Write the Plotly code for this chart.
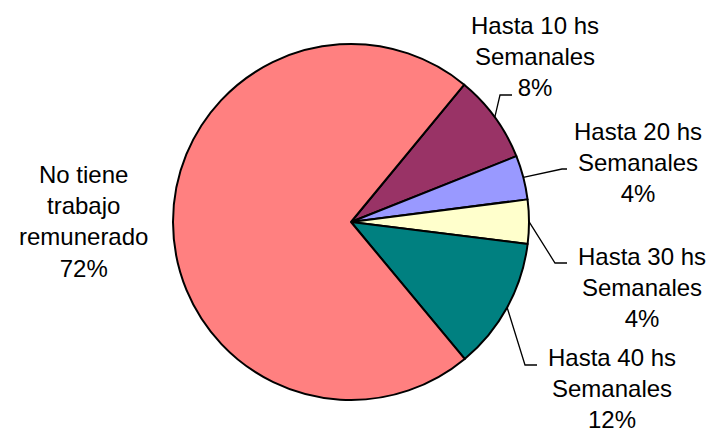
import math
import plotly.graph_objects as go

categories = ["Hasta 10 hs Semanales", "Hasta 20 hs Semanales", "Hasta 30 hs Semanales",
              "Hasta 40 hs Semanales", "No tiene trabajo remunerado"]
label_text = ["Hasta 10 hs<br>Semanales<br>8%", "Hasta 20 hs<br>Semanales<br>4%",
              "Hasta 30 hs<br>Semanales<br>4%", "Hasta 40 hs<br>Semanales<br>12%",
              "No tiene<br>trabajo<br>remunerado<br>72%"]
values = [8, 4, 4, 12, 72]
colors = ["#993366", "#9999FF", "#FFFFCC", "#008080", "#FF8080"]

W, H = 715, 432
cx, cy, R = 351, 222, 178
start_angle = 39.5  # degrees clockwise from 12 o'clock

fig = go.Figure(go.Pie(
    labels=categories, values=values, sort=False, direction="clockwise",
    rotation=start_angle, textinfo="none", hoverinfo="skip",
    marker=dict(colors=colors, line=dict(color="black", width=2)),
    domain=dict(x=[(cx - R) / W, (cx + R) / W], y=[(H - cy - R) / H, (H - cy + R) / H]),
    showlegend=False,
))

# label layout (pixel centers) and leader elbows
label_pos = [(535, 56), (638, 162), (642, 287), (612, 388), (83, 221)]
elbows = [[(500, 95), (512, 95)], [(562, 169), (567, 169)], [(555, 263), (567, 263)],
          [(525, 365), (537, 365)], None]

total = sum(values)
acc = 0.0
for i, v in enumerate(values):
    mid = start_angle + 360 * (acc + v / 2) / total
    acc += v
    x, y = label_pos[i]
    fig.add_annotation(x=x / W, y=1 - y / H, xref="paper", yref="paper", text=label_text[i],
                       showarrow=False, xanchor="center", yanchor="middle",
                       font=dict(family="Liberation Sans, Arial", size=24, color="black"))
    if elbows[i]:
        a = math.radians(mid)
        sx, sy = cx + R * math.sin(a), cy - R * math.cos(a)
        pts = [(sx, sy)] + elbows[i]
        path = "M " + " L ".join(f"{px / W},{1 - py / H}" for px, py in pts)
        fig.add_shape(type="path", path=path, xref="paper", yref="paper",
                      line=dict(color="black", width=1.3))

fig.update_layout(width=W, height=H, margin=dict(l=0, r=0, t=0, b=0),
                  paper_bgcolor="white", plot_bgcolor="white")
fig.write_html("out.html", config={"displayModeBar": False},
               post_script="document.body.style.margin='0';")
